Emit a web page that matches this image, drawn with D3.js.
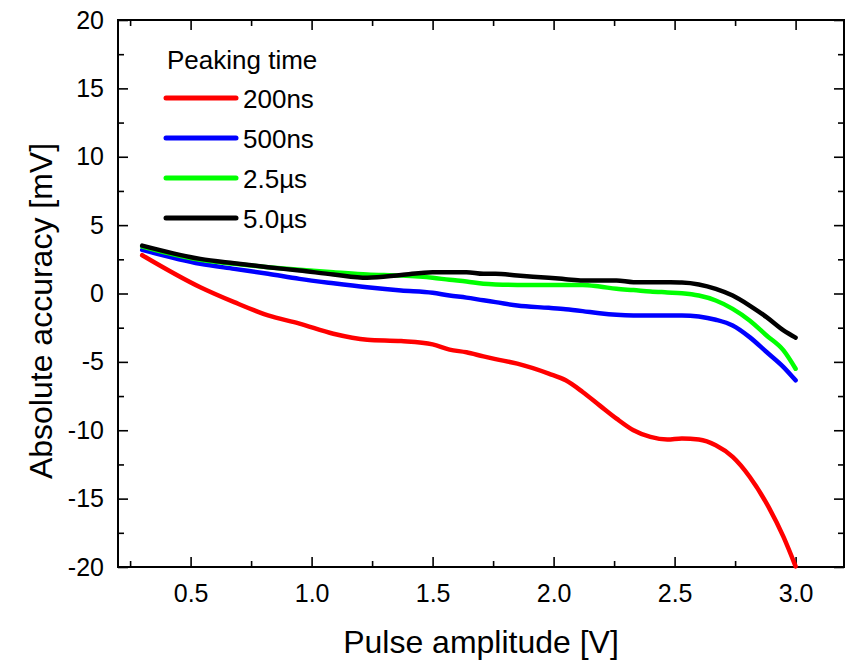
<!DOCTYPE html>
<html>
<head>
<meta charset="utf-8">
<script src="https://cdnjs.cloudflare.com/ajax/libs/d3/7.8.5/d3.min.js"></script>
<style>
  body { margin: 0; background: #fff; }
  text { font-family: "Liberation Sans", Arial, sans-serif; fill: #000; }
</style>
</head>
<body>
<div id="maincontainer"></div>
<script>
	// Data
	let amplitude = [0.3, 0.54, 0.68, 0.82, 0.95, 1.09, 1.23, 1.37, 1.5, 1.57, 1.64, 1.71, 1.76, 1.85, 1.98,
		2.05, 2.12, 2.19, 2.26, 2.33, 2.4, 2.47, 2.53, 2.6, 2.67, 2.74, 2.81, 2.88, 2.95, 3.0];

	let acc200ns = [2.8, 0.46, -0.63, -1.6, -2.2, -2.94, -3.38, -3.48, -3.72, -4.1, -4.3, -4.6, -4.8, -5.13, -5.86,
		-6.35, -7.2, -8.18, -9.15, -10.0, -10.49, -10.68, -10.6, -10.68, -11.1, -11.95, -13.4, -15.35, -17.8, -19.95];
	let acc500ns = [3.19, 2.17, 1.8, 1.44, 1.07, 0.75, 0.46, 0.22, 0.05, -0.15, -0.3, -0.5, -0.63, -0.88, -1.05,
		-1.15, -1.29, -1.45, -1.56, -1.6, -1.6, -1.6, -1.6, -1.68, -1.92, -2.34, -3.19, -4.28, -5.38, -6.35];
	let acc2500ns = [3.43, 2.46, 2.17, 1.92, 1.73, 1.56, 1.39, 1.31, 1.15, 1.0, 0.88, 0.71, 0.66, 0.63, 0.63,
		0.63, 0.63, 0.51, 0.34, 0.25, 0.15, 0.08, 0.02, -0.15, -0.51, -1.12, -1.97, -3.07, -4.16, -5.5];
	let acc5000ns = [3.5, 2.53, 2.21, 1.92, 1.68, 1.39, 1.15, 1.35, 1.56, 1.56, 1.56, 1.44, 1.44, 1.31, 1.15,
		1.05, 0.95, 0.95, 0.95, 0.83, 0.83, 0.82, 0.8, 0.66, 0.34, -0.15, -0.88, -1.73, -2.7, -3.23];

	let seriesNames = ["200ns", "500ns", "2.5\u00b5s", "5.0\u00b5s"];
	let seriesColors = ["#ff0000", "#0000ff", "#00ff00", "#000000"];
	let seriesValues = [acc200ns, acc500ns, acc2500ns, acc5000ns];

	let xMajor = [0.5, 1.0, 1.5, 2.0, 2.5, 3.0];
	let xMinor = [0.25, 0.75, 1.25, 1.75, 2.25, 2.75];
	let yMajor = [-20, -15, -10, -5, 0, 5, 10, 15, 20];
	let yMinor = [-17.5, -12.5, -7.5, -2.5, 2.5, 7.5, 12.5, 17.5];

	//Initialize SVG
	let width = 850;
	let height = 663;
	let plot = {left: 118, right: 844, top: 20, bottom: 567};

	let svg = d3.select("#maincontainer")
		.append("svg")
		.attr("width", width)
		.attr("height", height)
		.style("background", "#ffffff");

	let x = d3.scaleLinear().domain([0.2, 3.2]).range([plot.left, plot.right]);
	let y = d3.scaleLinear().domain([-20, 20]).range([plot.bottom, plot.top]);

	////////////////////////////////////////////////////////////
	//////////////// Axes /////////////////////////////////////
	////////////////////////////////////////////////////////////

	function styleAxis(g, fontSize) {
		g.select(".domain").remove();
		g.selectAll(".tick line").attr("stroke", "#000").attr("stroke-width", 1.6);
		g.selectAll(".tick text").style("font-size", fontSize + "px").attr("fill", "#000");
	}

	// major ticks with labels (plain hyphen for negatives, like the original)
	svg.append("g")
		.attr("transform", `translate(0,${plot.bottom})`)
		.call(d3.axisBottom(x).tickValues(xMajor).tickFormat(d => d.toFixed(1)).tickSize(-10).tickPadding(17))
		.call(g => styleAxis(g, 25));

	svg.append("g")
		.attr("transform", `translate(${plot.left},0)`)
		.call(d3.axisLeft(y).tickValues(yMajor).tickFormat(d => String(d)).tickSize(-10).tickPadding(14))
		.call(g => styleAxis(g, 25));

	// mirrored ticks, no labels
	svg.append("g")
		.attr("transform", `translate(0,${plot.top})`)
		.call(d3.axisTop(x).tickValues(xMajor).tickFormat("").tickSize(-10))
		.call(g => styleAxis(g, 25));

	svg.append("g")
		.attr("transform", `translate(${plot.right},0)`)
		.call(d3.axisRight(y).tickValues(yMajor).tickFormat("").tickSize(-10))
		.call(g => styleAxis(g, 25));

	// minor ticks
	[[d3.axisBottom(x).tickValues(xMinor), `translate(0,${plot.bottom})`],
	 [d3.axisTop(x).tickValues(xMinor), `translate(0,${plot.top})`],
	 [d3.axisLeft(y).tickValues(yMinor), `translate(${plot.left},0)`],
	 [d3.axisRight(y).tickValues(yMinor), `translate(${plot.right},0)`]].forEach(function(a){
		svg.append("g")
			.attr("transform", a[1])
			.call(a[0].tickFormat("").tickSize(-6))
			.call(g => styleAxis(g, 25));
	});

	// frame
	svg.append("rect")
		.attr("x", plot.left)
		.attr("y", plot.top)
		.attr("width", plot.right - plot.left)
		.attr("height", plot.bottom - plot.top)
		.attr("fill", "none")
		.attr("stroke", "#000")
		.attr("stroke-width", 2);

	svg.append("text")
		.attr("x", 481)
		.attr("y", 653)
		.attr("text-anchor", "middle")
		.style("font-size", "32px")
		.text("Pulse amplitude [V]");

	svg.append("text")
		.attr("transform", "translate(52,311) rotate(-90)")
		.attr("text-anchor", "middle")
		.style("font-size", "32px")
		.text("Absolute accuracy [mV]");

	////////////////////////////////////////////////////////////
	//////////////// Lines /////////////////////////////////////
	////////////////////////////////////////////////////////////

	let line = d3.line()
		.x((d, i) => x(amplitude[i]))
		.y(d => y(d))
		.curve(d3.curveMonotoneX);

	svg.append("g")
		.selectAll("path")
		.data(seriesValues)
		.enter()
		.append("path")
		.attr("d", line)
		.attr("fill", "none")
		.attr("stroke", (d, i) => seriesColors[i])
		.attr("stroke-width", 4.5)
		.attr("stroke-linecap", "round")
		.attr("stroke-linejoin", "round");

	////////////////////////////////////////////////////////////
	//////////////// Legend /////////////////////////////////////
	////////////////////////////////////////////////////////////

	let legend = svg.append("g");

	legend.append("text")
		.attr("x", 167)
		.attr("y", 69)
		.style("font-size", "26px")
		.text("Peaking time");

	let rows = legend.selectAll(".row")
		.data(seriesNames)
		.enter()
		.append("g")
		.attr("class", "row")
		.attr("transform", (d, i) => `translate(0,${98 + i * 40})`);

	rows.append("line")
		.attr("x1", 166)
		.attr("x2", 236)
		.attr("stroke", (d, i) => seriesColors[i])
		.attr("stroke-width", 5)
		.attr("stroke-linecap", "round");

	rows.append("text")
		.attr("x", 243)
		.attr("y", 10)
		.style("font-size", "26px")
		.text(d => d);
</script>
</body>
</html>
